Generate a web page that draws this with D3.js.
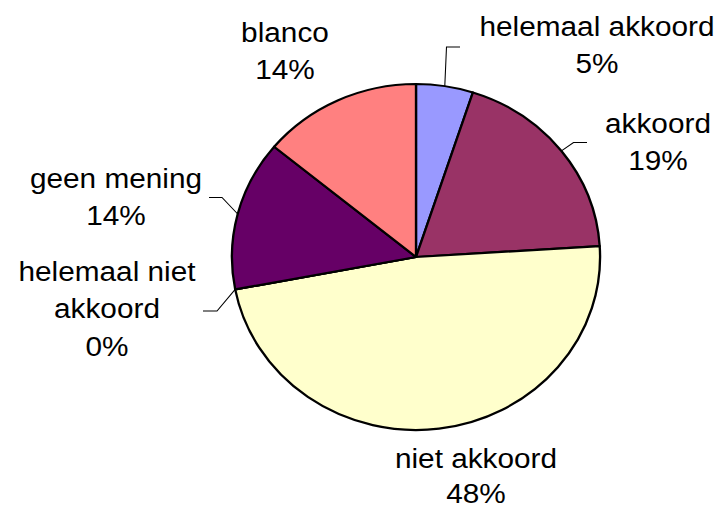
<!DOCTYPE html>
<html>
<head>
<meta charset="utf-8">
<script src="https://cdn.jsdelivr.net/npm/d3@7"></script>
<style>
  html, body { margin: 0; padding: 0; background: #ffffff; }
  svg { display: block; }
  text { font-family: "Liberation Sans", Arial, sans-serif; fill: #000; }
</style>
</head>
<body>
<svg id="chart" width="727" height="510"></svg>
<script>
// ---- data ----
const categories = ["helemaal akkoord", "akkoord", "niet akkoord", "helemaal niet akkoord", "geen mening", "blanco"];
const values = [5, 19, 48, 0, 14, 14];
const percentLabels = ["5%", "19%", "48%", "0%", "14%", "14%"];
const colors = ["#9999FF", "#993366", "#FFFFCC", "#CCFFFF", "#660066", "#FF8080"];

// label text lines (category text split as in the reference)
const labelLines = [
  ["helemaal akkoord"],
  ["akkoord"],
  ["niet akkoord"],
  ["helemaal niet", "akkoord"],
  ["geen mening"],
  ["blanco"]
];

// ---- layout (pixel positions of label blocks and leader elbows) ----
const sx = 1.064;                 // horizontal stretch of the reference
const W = 727, H = 510;
const cxPx = 416, cyPx = 257, R = 173;
const labelLayout = [
  { x: 597, y: 36,  lh: 37.5, leader: [[446.5, 47], [460, 47]] },
  { x: 658, y: 133, lh: 37.5, leader: [[573.5, 142.5], [587, 142.5]] },
  { x: 476, y: 468, lh: 35,   leader: null },
  { x: 107, y: 281, lh: 37.5, leader: [[217, 311], [203, 311]] },
  { x: 116, y: 188, lh: 37.5, leader: [[222, 197.5], [209, 197.5]] },
  { x: 285, y: 42,  lh: 37.5, leader: null }
];
const fontSize = 28;

const svg = d3.select("#chart");
const g = svg.append("g").attr("transform", `scale(${sx},1)`);
const X = px => px / sx;

const pie = d3.pie().sort(null).value(d => d)(values);
const arc = d3.arc().innerRadius(0).outerRadius(R);

const pieG = g.append("g").attr("transform", `translate(${X(cxPx)},${cyPx})`);
pieG.selectAll("path.slice")
  .data(pie)
  .join("path")
  .attr("class", "slice")
  .attr("d", arc)
  .attr("fill", (d, i) => colors[i])
  .attr("stroke", "#000")
  .attr("stroke-width", 2.2)
  .attr("stroke-linejoin", "round");

// leader lines
pie.forEach((d, i) => {
  const L = labelLayout[i];
  if (!L.leader) return;
  const a = (i === 3) ? d.startAngle : (d.startAngle + d.endAngle) / 2;
  const ex = X(cxPx) + R * Math.sin(a);
  const ey = cyPx - R * Math.cos(a);
  const pts = [[ex, ey]].concat(L.leader.map(p => [X(p[0]), p[1]]));
  g.append("path")
    .attr("d", d3.line()(pts))
    .attr("fill", "none")
    .attr("stroke", "#000")
    .attr("stroke-width", 1);
});

// labels
categories.forEach((c, i) => {
  const L = labelLayout[i];
  const lines = labelLines[i].concat([percentLabels[i]]);
  const t = g.append("text")
    .attr("text-anchor", "middle")
    .attr("font-size", fontSize)
    .attr("x", X(L.x))
    .attr("y", L.y);
  lines.forEach((ln, k) => {
    t.append("tspan")
      .attr("x", X(L.x))
      .attr("y", L.y + k * L.lh)
      .text(ln);
  });
});
</script>
</body>
</html>
